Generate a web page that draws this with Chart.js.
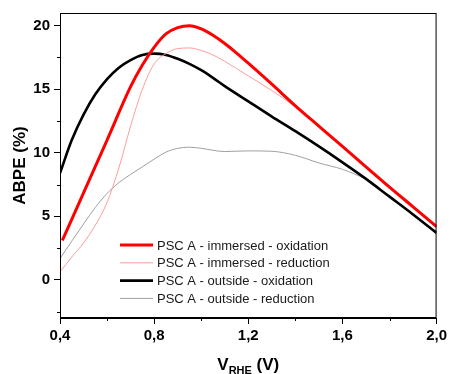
<!DOCTYPE html>
<html>
<head>
<meta charset="utf-8">
<script src="https://cdn.jsdelivr.net/npm/chart.js@4/dist/chart.umd.min.js"></script>
<style>
  html, body { margin: 0; padding: 0; background: #fff; }
  #abpeChart { display: block; }
</style>
</head>
<body>
<canvas id="abpeChart" width="450" height="374"></canvas>
<script>
// 데이터
const seriesNames = [
    "PSC A - immersed - oxidation",
    "PSC A - immersed - reduction",
    "PSC A - outside - oxidation",
    "PSC A - outside - reduction",
];

// immersed - oxidation
const immOxV = [0.41, 0.5, 0.6, 0.7, 0.75, 0.8, 0.85, 0.9, 0.95, 1.0, 1.05, 1.1, 1.15, 1.2, 1.3, 1.4, 1.5, 1.6, 1.7, 1.8, 1.9, 2.0];
const immOxY = [3.1, 6.85, 11.0, 15.2, 16.9, 18.3, 19.35, 19.85, 20.0, 19.75, 19.25, 18.6, 17.85, 17.05, 15.4, 13.7, 12.1, 10.5, 8.9, 7.3, 5.75, 4.2];

// immersed - reduction
const immRedV = [0.4, 0.45, 0.5, 0.55, 0.6, 0.65, 0.7, 0.75, 0.8, 0.85, 0.9, 0.95, 1.0, 1.05, 1.1, 1.2, 1.3, 1.4, 1.5, 1.6, 1.7, 1.8, 1.9, 2.0];
const immRedY = [0.63, 1.8, 2.9, 4.3, 6.1, 8.8, 12.1, 15.0, 17.0, 17.8, 18.2, 18.25, 18.05, 17.7, 17.2, 16.05, 14.9, 13.6, 12.1, 10.5, 8.9, 7.3, 5.75, 4.2];

// outside - oxidation
const outOxV = [0.4, 0.45, 0.5, 0.55, 0.6, 0.65, 0.7, 0.75, 0.8, 0.85, 0.9, 0.95, 1.0, 1.05, 1.1, 1.2, 1.3, 1.4, 1.5, 1.6, 1.7, 1.8, 1.9, 2.0];
const outOxY = [8.4, 11.0, 13.0, 14.6, 15.8, 16.7, 17.3, 17.7, 17.8, 17.7, 17.4, 17.0, 16.5, 15.9, 15.25, 14.05, 12.85, 11.7, 10.5, 9.25, 7.95, 6.55, 5.15, 3.7];

// outside - reduction
const outRedV = [0.4, 0.45, 0.5, 0.55, 0.6, 0.65, 0.7, 0.75, 0.8, 0.85, 0.9, 0.95, 1.0, 1.1, 1.2, 1.3, 1.4, 1.5, 1.6, 1.7];
const outRedY = [1.68, 3.05, 4.4, 5.7, 6.8, 7.65, 8.3, 8.9, 9.5, 10.05, 10.35, 10.44, 10.35, 10.1, 10.15, 10.12, 9.8, 9.2, 8.7, 7.95];

// 눈금
const xMajorTicks = [0.4, 0.8, 1.2, 1.6, 2.0];
const xMinorTicks = [0.6, 1.0, 1.4, 1.8];
const yMajorTicks = [0, 5, 10, 15, 20];
const yMinorTicks = [-2.5, 2.5, 7.5, 12.5, 17.5];

const FONT = "'Liberation Sans', Arial, sans-serif";

function toPoints(xs, ys) {
    return xs.map((x, i) => ({ x: x, y: ys[i] }));
}

/* 보조 그리기 플러그인: 테두리, 보조 눈금, 범례, 축 제목 */
const decorPlugin = {
    id: "decor",
    afterDatasetsDraw(chart) {
        const ctx = chart.ctx;
        const area = chart.chartArea;
        const xs = chart.scales.x;
        const ys = chart.scales.y;

        ctx.save();
        // 테두리
        ctx.strokeStyle = "#000";
        ctx.lineWidth = 1;
        ctx.strokeRect(area.left + 0.5, area.top + 0.5, area.right - area.left - 1, area.bottom - area.top - 1);

        // 보조 눈금
        ctx.beginPath();
        xMinorTicks.forEach(v => {
            const px = Math.round(xs.getPixelForValue(v)) + 0.5;
            ctx.moveTo(px, area.bottom);
            ctx.lineTo(px, area.bottom + 3);
        });
        yMinorTicks.forEach(v => {
            const py = Math.round(ys.getPixelForValue(v)) + 0.5;
            ctx.moveTo(area.left, py);
            ctx.lineTo(area.left - 3, py);
        });
        ctx.stroke();

        // 범례
        const legendX = area.left + 60;
        const legendY = area.top + 232;
        ctx.font = "13px " + FONT;
        ctx.textBaseline = "middle";
        ctx.textAlign = "left";
        chart.data.datasets.forEach((ds, i) => {
            const y = legendY + i * 17.8;
            ctx.strokeStyle = ds.borderColor;
            ctx.lineWidth = ds.borderWidth;
            ctx.beginPath();
            ctx.moveTo(legendX, y);
            ctx.lineTo(legendX + 33, y);
            ctx.stroke();
            ctx.fillStyle = "#1a1a1a";
            ctx.fillText(ds.label, legendX + 37, y + 1);
        });

        // y축 제목
        ctx.fillStyle = "#000";
        ctx.font = "bold 17px " + FONT;
        ctx.textAlign = "center";
        ctx.textBaseline = "middle";
        ctx.save();
        ctx.translate(20, (area.top + area.bottom) / 2);
        ctx.rotate(-Math.PI / 2);
        ctx.fillText("ABPE (%)", 0, 0);
        ctx.restore();

        // x축 제목 (아래 첨자 포함)
        const bigFont = "bold 17px " + FONT;
        const subFont = "bold 11px " + FONT;
        ctx.font = bigFont;
        const wV = ctx.measureText("V").width;
        const wTail = ctx.measureText(" (V)").width;
        ctx.font = subFont;
        const wSub = ctx.measureText("RHE").width;
        const total = wV + wSub + wTail;
        let tx = (area.left + area.right) / 2 - total / 2;
        const base = 370;
        ctx.textAlign = "left";
        ctx.textBaseline = "alphabetic";
        ctx.font = bigFont;
        ctx.fillText("V", tx, base);
        tx += wV;
        ctx.font = subFont;
        ctx.fillText("RHE", tx, base + 4);
        tx += wSub;
        ctx.font = bigFont;
        ctx.fillText(" (V)", tx, base);
        ctx.restore();
    }
};

/* 차트 생성 */
const ctx = document.getElementById("abpeChart").getContext("2d");
const abpeChart = new Chart(ctx, {
    type: "line",
    data: {
        datasets: [
            {
                label: seriesNames[0],
                data: toPoints(immOxV, immOxY),
                borderColor: "#ff0000",
                borderWidth: 3,
            },
            {
                label: seriesNames[1],
                data: toPoints(immRedV, immRedY),
                borderColor: "#ff9c9c",
                borderWidth: 1,
            },
            {
                label: seriesNames[2],
                data: toPoints(outOxV, outOxY),
                borderColor: "#000000",
                borderWidth: 2.6,
            },
            {
                label: seriesNames[3],
                data: toPoints(outRedV, outRedY),
                borderColor: "#a0a0a0",
                borderWidth: 1,
            },
        ],
    },
    options: {
        responsive: false,
        animation: false,
        devicePixelRatio: 1,
        layout: { padding: { top: 12, right: 10, bottom: 0, left: 0 } },
        elements: {
            point: { radius: 0 },
            line: { cubicInterpolationMode: "monotone", fill: false },
        },
        plugins: {
            legend: { display: false },
            tooltip: { enabled: false },
        },
        scales: {
            x: {
                type: "linear",
                min: 0.4,
                max: 2.0,
                afterBuildTicks: (scale) => {
                    scale.ticks = xMajorTicks.map(v => ({ value: v }));
                },
                afterFit: (scale) => { scale.height = 56; },
                grid: { drawOnChartArea: false, tickLength: 6, tickColor: "#000" },
                border: { display: true, color: "#000" },
                ticks: {
                    color: "#000",
                    padding: 3,
                    maxRotation: 0,
                    font: { family: FONT, size: 15, weight: "bold" },
                    callback: (v) => Number(v).toFixed(1).replace(".", ","),
                },
            },
            y: {
                type: "linear",
                min: -3,
                max: 21,
                afterBuildTicks: (scale) => {
                    scale.ticks = yMajorTicks.map(v => ({ value: v }));
                },
                afterFit: (scale) => { scale.width = 60; },
                grid: { drawOnChartArea: false, tickLength: 6, tickColor: "#000" },
                border: { display: true, color: "#000" },
                ticks: {
                    color: "#000",
                    padding: 4,
                    font: { family: FONT, size: 15, weight: "bold" },
                    callback: (v) => String(v),
                },
            },
        },
    },
    plugins: [decorPlugin],
});
/* 차트 생성 종료 */
</script>
</body>
</html>
